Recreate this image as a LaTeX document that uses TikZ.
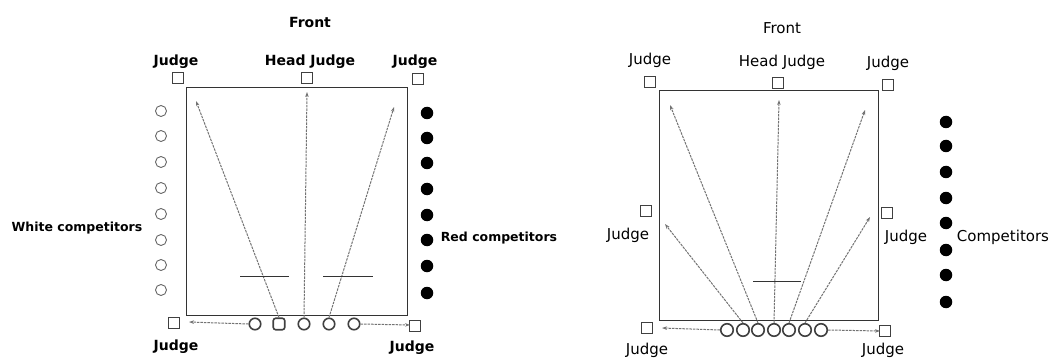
\documentclass[tikz,border=0pt]{standalone}
\usepackage{fontspec}
\setmainfont{DejaVu Sans}
\usetikzlibrary{arrows.meta}
\begin{document}
\begin{tikzpicture}[x=1pt,y=-1pt,
  judgebox/.style={draw=black!75,line width=0.8pt,minimum size=11pt,inner sep=0pt},
  wcomp/.style={circle,draw=black!60,line width=0.9pt,minimum size=11pt,inner sep=0pt},
  rcomp/.style={circle,fill=black,minimum size=12.5pt,inner sep=0pt},
  lineup/.style={circle,draw=black!75,line width=1.6pt,minimum size=11.5pt,inner sep=0pt},
  lineupsq/.style={rounded corners=2.5pt,draw=black!75,line width=1.6pt,minimum size=11.5pt,inner sep=0pt},
  field/.style={draw=black!80,line width=1pt},
  move/.style={draw=black!55,line width=1pt,dash pattern=on 2.5pt off 1pt,-{Stealth[length=5pt,width=3.5pt]}},
  tick/.style={draw=black!80,line width=0.9pt},
  lbold/.style={font=\fontsize{14}{16}\selectfont\bfseries,inner sep=0pt},
  lsmall/.style={font=\fontsize{12.5}{14}\selectfont\bfseries,inner sep=0pt},
  lreg/.style={font=\fontsize{15}{17}\selectfont,inner sep=0pt}]
\useasboundingbox (0,0) rectangle (1051,358);
% ===== Left diagram =====
\draw[field] (186,88) rectangle (407,315);
\node[lbold] (lfront) at (310,22) {Front};
\node[lbold] (ljtl) at (176,62) {Judge};
\node[lbold] (lhead) at (310,62) {Head Judge};
\node[lbold] (ljtr) at (415,62) {Judge};
\node[lbold] (ljbl) at (176,347) {Judge};
\node[lbold] (ljbr) at (412,348) {Judge};
\node[lsmall] (lwhite) at (77,228) {White competitors};
\node[lsmall] (lred) at (499,238) {Red competitors};
\node[judgebox] (tl) at (178,78) {};
\node[judgebox] (hj) at (307,78) {};
\node[judgebox] (tr) at (418,79) {};
\node[judgebox] (bl) at (174,323) {};
\node[judgebox] (br) at (415,326) {};
\foreach \y [count=\i] in {111,136,162,188,214,240,265,290}
  \node[wcomp] (w\i) at (161,\y) {};
\foreach \y [count=\i] in {113,138,163,189,215,240,266,293}
  \node[rcomp] (r\i) at (427,\y) {};
\node[lineup] (lb1) at (255,324) {};
\node[lineupsq] (lb2) at (279,324) {};
\node[lineup] (lb3) at (304,324) {};
\node[lineup] (lb4) at (329,324) {};
\node[lineup] (lb5) at (354,324) {};
\coordinate (la1) at (196,101);
\coordinate (la2) at (307,92);
\coordinate (la3) at (394,107);
\coordinate (la4) at (189,322);
\coordinate (la5) at (410,325);
\draw[move] (lb2.north) -- (la1);
\draw[move] (lb3.north) -- (la2);
\draw[move] (lb4.north) -- (la3);
\draw[move] (lb1.west) -- (la4);
\draw[move] (lb5.east) -- (la5);
\draw[tick] (240,276) -- (289,276);
\draw[tick] (323,276) -- (373,276);
% ===== Right diagram =====
\draw[field] (659,91) rectangle (878,320);
\node[lreg] (rfront) at (782,28) {Front};
\node[lreg] (rjtl) at (650,60) {Judge};
\node[lreg] (rhead) at (782,62) {Head Judge};
\node[lreg] (rjtr) at (888,63) {Judge};
\node[lreg] (rjml) at (628,235) {Judge};
\node[lreg] (rjmr) at (906,237) {Judge};
\node[lreg] (rcomp) at (1003,237) {Competitors};
\node[lreg] (rjbl) at (647,350) {Judge};
\node[lreg] (rjbr) at (883,350) {Judge};
\node[judgebox] (q1) at (650,82) {};
\node[judgebox] (q2) at (778,83) {};
\node[judgebox] (q3) at (888,85) {};
\node[judgebox] (q4) at (646,211) {};
\node[judgebox] (q5) at (887,213) {};
\node[judgebox] (q6) at (647,328) {};
\node[judgebox] (q7) at (885,331) {};
\foreach \y [count=\i] in {122,146,172,198,223,250,275,302}
  \node[rcomp] (k\i) at (946,\y) {};
\foreach \x [count=\i] in {727,743,758,774,789,805,821}
  \node[lineup,minimum size=12.5pt] (c\i) at (\x,330) {};
\coordinate (ra1) at (670,105);
\coordinate (ra2) at (665,224);
\coordinate (ra3) at (779,100);
\coordinate (ra4) at (865,110);
\coordinate (ra5) at (870,217);
\coordinate (ra6) at (662,328);
\coordinate (ra7) at (880,331);
\draw[move] (c3.north) -- (ra1);
\draw[move] (c2.north) -- (ra2);
\draw[move] (c4.north) -- (ra3);
\draw[move] (c5.north) -- (ra4);
\draw[move] (c6.north) -- (ra5);
\draw[move] (c1.west) -- (ra6);
\draw[move] (c7.east) -- (ra7);
\draw[tick] (753,281) -- (801,281);
\end{tikzpicture}
\end{document}
